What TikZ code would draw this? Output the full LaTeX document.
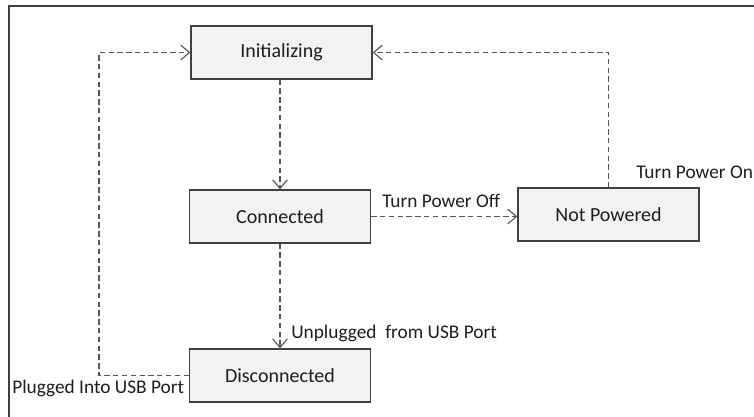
\documentclass[tikz,border=0pt]{standalone}
\usepackage{fontspec}
\setmainfont{Carlito}
\usetikzlibrary{arrows.meta,positioning}
\definecolor{boxgray}{RGB}{242,242,242}
\definecolor{edgegray}{RGB}{64,64,64}
\definecolor{linegray}{RGB}{85,85,85}
\definecolor{inkgray}{RGB}{30,30,30}

\begin{document}
\begin{tikzpicture}[x=0.75pt,y=-0.75pt]
  \tikzstyle{state}=[draw=edgegray,line width=1pt,fill=boxgray,minimum width=135.75pt,
    minimum height=39.75pt,inner sep=0pt,align=center,text=inkgray,font=\fontsize{15}{18}\selectfont]
  \tikzstyle{trans}=[-{Straight Barb[length=6.5pt,width=11pt]},linegray,line width=0.85pt,
    dash pattern=on 4pt off 2.6pt]
  \tikzstyle{cond}=[inner sep=0pt,text=inkgray,font=\fontsize{14.5}{17}\selectfont]

  % -- Canvas and frame --
  \useasboundingbox (0,0) rectangle (754,417);
  \draw[edgegray,line width=1.1pt] (9,417) -- (9,6) -- (754,6);

  % -- States --
  \node[state] (init) at (281.5,52.5) {Initializing};
  \node[state] (conn) at (280,216.5) {Connected};
  \node[state] (npow) at (608.5,214.5) {Not Powered};
  \node[state] (disc) at (280,375.5) {Disconnected};

  % -- Transitions --
  \draw[trans] (init.south -| conn.north) -- (conn.north);
  \draw[trans] (conn.east) -- (conn.east -| npow.west);
  \draw[trans] (conn.south) -- (disc.north);
  \draw[trans] (npow.north) |- (init.east);
  \coordinate (plugbend) at (99,375.5);
  \draw[trans] (disc.west) -- (plugbend) |- (init.west);

  % -- Conditions --
  \node[cond,anchor=south west] (off) at (382,208) {Turn Power Off};
  \node[cond,anchor=west] (on) at (636,172) {Turn Power On};
  \node[cond,anchor=west] (unplug) at (291,333) {Unplugged\ \ from USB Port};
  \node[cond,anchor=west] (plug) at (12,388) {Plugged Into USB Port};
\end{tikzpicture}
\end{document}
